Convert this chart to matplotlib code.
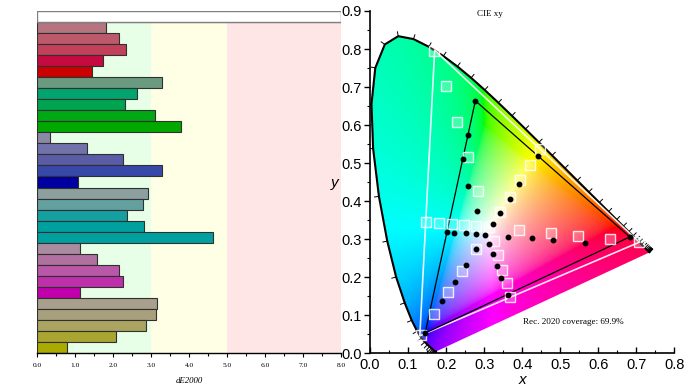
import numpy as np
import matplotlib
matplotlib.use('Agg')
import matplotlib.pyplot as plt
from matplotlib.patches import Polygon
from matplotlib.collections import LineCollection
from matplotlib.ticker import MultipleLocator, FormatStrFormatter

# ---------------- data ----------------
# dE2000 bars, top to bottom (white + 6 hue sweeps of 5 steps)
bar_values = [8.0,
              1.82, 2.15, 2.34, 1.74, 1.45,
              3.30, 2.62, 2.32, 3.10, 3.79,
              0.35, 1.32, 2.25, 3.28, 1.08,
              2.91, 2.78, 2.37, 2.81, 4.63,
              1.14, 1.58, 2.16, 2.26, 1.14,
              3.17, 3.12, 2.88, 2.08, 0.78]
bar_colors = ['#ffffff',
              '#b47480', '#bc5a6c', '#c2405a', '#c40a40', '#cc0000',
              '#6a9a80', '#00a46c', '#00a450', '#00a814', '#00a800',
              '#8a8aa8', '#7272aa', '#5a5ca6', '#3848a8', '#0000a0',
              '#8ca0a0', '#64a0a0', '#14a0a0', '#00a0a0', '#00a0a0',
              '#aa8ca0', '#b070a0', '#b858a6', '#be30aa', '#c000aa',
              '#a8a08c', '#a8a07c', '#aaa460', '#aaa430', '#aaaa00']
bands = [(0, 3, '#e6ffe6'), (3, 5, '#ffffe6'), (5, 8, '#ffe6e6')]

# CIE 1931 2 deg spectral locus, 380-700 nm every 5 nm
wavelengths = list(range(380, 705, 5))
locus_x = [0.1741, 0.1740, 0.1738, 0.1736, 0.1733, 0.1730, 0.1726, 0.1721, 0.1714, 0.1703,
           0.1689, 0.1669, 0.1644, 0.1611, 0.1566, 0.1510, 0.1440, 0.1355, 0.1241, 0.1096,
           0.0913, 0.0687, 0.0454, 0.0235, 0.0082, 0.0039, 0.0139, 0.0389, 0.0743, 0.1142,
           0.1547, 0.1929, 0.2296, 0.2658, 0.3016, 0.3373, 0.3731, 0.4087, 0.4441, 0.4788,
           0.5125, 0.5448, 0.5752, 0.6029, 0.6270, 0.6482, 0.6658, 0.6801, 0.6915, 0.7006,
           0.7079, 0.7140, 0.7190, 0.7230, 0.7260, 0.7283, 0.7300, 0.7311, 0.7320, 0.7327,
           0.7334, 0.7340, 0.7344, 0.7346, 0.7347]
locus_y = [0.0050, 0.0050, 0.0049, 0.0049, 0.0048, 0.0048, 0.0048, 0.0048, 0.0051, 0.0058,
           0.0069, 0.0086, 0.0109, 0.0138, 0.0177, 0.0227, 0.0297, 0.0399, 0.0578, 0.0868,
           0.1327, 0.2007, 0.2950, 0.4127, 0.5384, 0.6548, 0.7502, 0.8120, 0.8338, 0.8262,
           0.8059, 0.7816, 0.7543, 0.7243, 0.6923, 0.6589, 0.6245, 0.5896, 0.5547, 0.5202,
           0.4866, 0.4544, 0.4242, 0.3965, 0.3725, 0.3514, 0.3340, 0.3197, 0.3083, 0.2993,
           0.2920, 0.2859, 0.2809, 0.2770, 0.2740, 0.2717, 0.2700, 0.2689, 0.2680, 0.2673,
           0.2666, 0.2660, 0.2656, 0.2654, 0.2653]

# Rec. 2020 primaries (R, G, B) and measured gamut primaries
rec2020_x = [0.708, 0.170, 0.131]
rec2020_y = [0.292, 0.797, 0.046]
gamut_x = [0.683, 0.277, 0.145]
gamut_y = [0.306, 0.664, 0.053]

# target points (squares)
target_x = [0.314,
            0.392, 0.475, 0.547, 0.632, 0.707,
            0.285, 0.258, 0.229, 0.200, 0.168,
            0.278, 0.242, 0.205, 0.168, 0.135,
            0.278, 0.248, 0.216, 0.181, 0.148,
            0.325, 0.337, 0.348, 0.359, 0.369,
            0.341, 0.367, 0.395, 0.420, 0.447]
target_y = [0.331,
            0.323, 0.315, 0.309, 0.301, 0.293,
            0.427, 0.515, 0.609, 0.703, 0.796,
            0.273, 0.217, 0.162, 0.104, 0.047,
            0.334, 0.337, 0.340, 0.343, 0.346,
            0.296, 0.258, 0.220, 0.186, 0.149,
            0.372, 0.412, 0.456, 0.496, 0.538]

# measured points (dots)
measured_x = [0.363, 0.425, 0.482, 0.565, 0.683,
              0.281, 0.258, 0.245, 0.258, 0.277,
              0.278, 0.252, 0.223, 0.189, 0.145,
              0.303, 0.278, 0.253, 0.220, 0.202,
              0.312, 0.323, 0.333, 0.345, 0.362,
              0.324, 0.343, 0.368, 0.393, 0.442]
measured_y = [0.306, 0.303, 0.299, 0.291, 0.306,
              0.375, 0.440, 0.512, 0.574, 0.664,
              0.273, 0.233, 0.188, 0.138, 0.053,
              0.311, 0.313, 0.315, 0.317, 0.319,
              0.288, 0.260, 0.229, 0.197, 0.154,
              0.341, 0.369, 0.405, 0.446, 0.520]

coverage_text = 'Rec. 2020 coverage: 69.9%'

serif = ['Liberation Serif', 'DejaVu Serif']
sans = ['Liberation Sans', 'DejaVu Sans']


def chromaticity_image(nx=400, ny=450):
    # colour of every xy point, desaturated into sRGB by adding white
    xs = np.linspace(0, 0.8, nx)
    ys = np.linspace(0.0005, 0.9, ny)
    X, Y = np.meshgrid(xs, ys)
    Xc = X / Y
    Zc = (1 - X - Y) / Y
    M = np.array([[3.2406, -1.5372, -0.4986],
                  [-0.9689, 1.8758, 0.0415],
                  [0.0557, -0.2040, 1.0570]])
    xyz = np.stack([Xc, np.ones_like(Xc), Zc], axis=-1)
    rgb = xyz @ M.T
    low = np.minimum(rgb.min(axis=-1, keepdims=True), 0)
    rgb = rgb - low
    rgb = rgb / np.maximum(rgb.max(axis=-1, keepdims=True), 1e-9)
    rgb = np.where(rgb <= 0.0031308, 12.92 * rgb, 1.055 * rgb ** (1 / 2.4) - 0.055)
    return np.clip(rgb, 0, 1)


fig = plt.figure(figsize=(6.93, 3.9), dpi=100)

# ---------------- left: dE2000 bars ----------------
ax1 = fig.add_axes([0.0534, 0.0949, 0.4387, 0.8769])
for lo, hi, c in bands:
    ax1.axvspan(lo, hi, color=c, lw=0, zorder=0)
ypos = np.arange(len(bar_values))[::-1]
ax1.barh(ypos, bar_values, height=1.0, color=bar_colors,
         edgecolor='#303030', linewidth=0.8, zorder=2)
ax1.barh(ypos[0], bar_values[0], height=1.0, color='white',
         edgecolor='#808080', linewidth=1.0, zorder=3)
ax1.set_xlim(0, 8)
ax1.set_ylim(-0.5, len(bar_values) - 0.5)
ax1.set_yticks([])
for s in ['top', 'right', 'left']:
    ax1.spines[s].set_visible(False)
ax1.spines['bottom'].set_linewidth(1.0)
ax1.xaxis.set_major_locator(MultipleLocator(1))
ax1.xaxis.set_minor_locator(MultipleLocator(0.5))
ax1.xaxis.set_major_formatter(FormatStrFormatter('%.1f'))
ax1.tick_params(axis='x', which='major', length=3, width=0.8, labelsize=5.3, pad=4)
ax1.tick_params(axis='x', which='minor', length=2, width=0.8)
for lab in ax1.get_xticklabels():
    lab.set_family(serif)
ax1.set_xlabel('dE2000', family=serif, style='italic', fontsize=6.3, labelpad=7)

# ---------------- right: CIE xy ----------------
ax2 = fig.add_axes([0.5339, 0.0941, 0.4391, 0.8777])
ax2.set_xlim(0, 0.8)
ax2.set_ylim(0, 0.9)

locus = Polygon(np.column_stack([locus_x, locus_y]), closed=True,
                facecolor='none', edgecolor='none', transform=ax2.transData)
ax2.add_patch(locus)
img = ax2.imshow(chromaticity_image(), origin='lower', extent=[0, 0.8, 0, 0.9],
                 interpolation='bilinear', aspect='auto', zorder=1)
img.set_clip_path(locus)

ax2.plot(locus_x, locus_y, color='black', lw=1.5, zorder=3,
         solid_capstyle='round', solid_joinstyle='round')

# wavelength ticks on the locus
lx = np.array(locus_x)
ly = np.array(locus_y)
tx = np.gradient(lx)
ty = np.gradient(ly)
norm = np.hypot(tx, ty)
nxv = ty / norm
nyv = -tx / norm
flip = (nxv * (lx - 0.33) + nyv * (ly - 0.33)) < 0
nxv[flip] *= -1
nyv[flip] *= -1
tick_len = 0.013
segs = [[(a, b), (a + tick_len * c, b + tick_len * d)]
        for a, b, c, d in zip(lx, ly, nxv, nyv)]
ax2.add_collection(LineCollection(segs, colors='black', linewidths=0.7, zorder=3))

# Rec. 2020 triangle (white) and measured gamut (black)
ax2.plot(rec2020_x + rec2020_x[:1], rec2020_y + rec2020_y[:1],
         color='white', lw=1.2, alpha=0.9, zorder=4)
ax2.plot(gamut_x + gamut_x[:1], gamut_y + gamut_y[:1],
         color='black', lw=0.9, zorder=5)

ax2.plot(target_x, target_y, ls='none', marker='s', markersize=6.5,
         markerfacecolor=(1, 1, 1, 0.25), markeredgecolor=(1, 1, 1, 0.85),
         markeredgewidth=1.0, zorder=6)
ax2.plot(measured_x, measured_y, ls='none', marker='o', markersize=3.2,
         color='black', zorder=7)

ax2.text(0.315, 0.893, 'CIE xy', ha='center', va='center', family=serif, fontsize=6.5)
ax2.text(0.402, 0.082, coverage_text, ha='left', va='center', family=serif, fontsize=6.6)

for s in ['top', 'right']:
    ax2.spines[s].set_visible(False)
for s in ['left', 'bottom']:
    ax2.spines[s].set_linewidth(1.2)
ax2.xaxis.set_major_locator(MultipleLocator(0.1))
ax2.xaxis.set_minor_locator(MultipleLocator(0.05))
ax2.yaxis.set_major_locator(MultipleLocator(0.1))
ax2.yaxis.set_minor_locator(MultipleLocator(0.05))
ax2.xaxis.set_major_formatter(FormatStrFormatter('%.1f'))
ax2.yaxis.set_major_formatter(FormatStrFormatter('%.1f'))
ax2.tick_params(which='major', length=4, width=1.0, labelsize=10.5, pad=2)
ax2.tick_params(which='minor', length=2.5, width=0.8)
ax2.tick_params(axis='x', which='both', direction='in', pad=3.5)
for lab in ax2.get_xticklabels() + ax2.get_yticklabels():
    lab.set_family(sans)
ax2.set_xlabel('x', family=sans, style='italic', fontsize=11)
ax2.set_ylabel('y', family=sans, style='italic', fontsize=11, rotation=0)
ax2.xaxis.set_label_coords(0.5, -0.078)
ax2.yaxis.set_label_coords(-0.115, 0.4975)
ax2.xaxis.label.set_va('center')
ax2.yaxis.label.set_va('center')
ax2.yaxis.label.set_ha('center')

fig.savefig('out.png', dpi=100)
